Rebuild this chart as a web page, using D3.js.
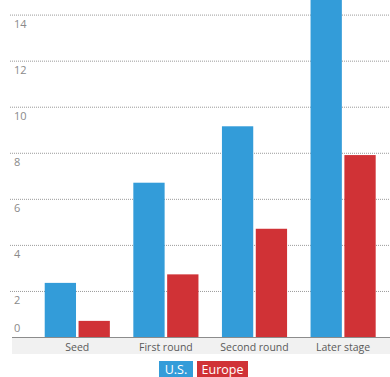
<!DOCTYPE html>
<html>
<head>
<meta charset="utf-8">
<script src="https://cdn.jsdelivr.net/npm/d3@7"></script>
<style>
  html, body { margin: 0; padding: 0; background: #fff; }
  svg { display: block; }
  text { font-family: "Open Sans", "DejaVu Sans", sans-serif; }
</style>
</head>
<body>
<svg id="chart" width="390" height="377"></svg>
<script>
// Venture funding by stage
const categories = ["Seed", "First round", "Second round", "Later stage"];
const seriesNames = ["U.S.", "Europe"];
const usValues = [2.35, 6.7, 9.15, 15.3];
const europeValues = [0.7, 2.72, 4.7, 7.9];
const yTicks = [0, 2, 4, 6, 8, 10, 12, 14];
const colors = ["#339cd9", "#d03236"];

const svg = d3.select("#chart");
const W = 390;
const left = 12;
const baseY = 337;

const y = d3.scaleLinear().domain([0, 14]).range([baseY, 14.6]);
const x0 = d3.scaleBand().domain(categories).range([33.2, 387.2]).paddingInner(0.265).paddingOuter(0.13);
const x1 = d3.scaleBand().domain(seriesNames).range([0, x0.bandwidth()]).paddingInner(0.075);
const color = d3.scaleOrdinal().domain(seriesNames).range(colors);

// category label strip
svg.append("rect")
  .attr("x", left).attr("y", baseY)
  .attr("width", W - left).attr("height", 17)
  .attr("fill", "#f1f1f1");

// dotted gridlines
svg.append("g")
  .selectAll("line")
  .data(yTicks.filter(d => d > 0))
  .join("line")
  .attr("x1", left - 2).attr("x2", W)
  .attr("y1", d => y(d) + 0.5).attr("y2", d => y(d) + 0.5)
  .attr("stroke", "#9a9a9a")
  .attr("stroke-width", 1)
  .attr("stroke-dasharray", "1,1");

// tick labels sit just below their gridline; zero sits above the baseline
svg.append("g")
  .selectAll("text")
  .data(yTicks)
  .join("text")
  .attr("x", 14)
  .attr("y", d => d === 0 ? y(d) - 5 : y(d) + 13)
  .attr("font-size", 11)
  .attr("fill", "#8a8a8a")
  .text(d => d);

// bars
const rows = categories.map((c, i) => ({ cat: c, values: [usValues[i], europeValues[i]] }));
const groups = svg.append("g")
  .selectAll("g")
  .data(rows)
  .join("g")
  .attr("transform", d => `translate(${x0(d.cat)},0)`);

groups.selectAll("rect")
  .data(d => seriesNames.map((s, j) => ({ s, v: d.values[j] })))
  .join("rect")
  .attr("x", d => x1(d.s))
  .attr("width", x1.bandwidth())
  .attr("y", d => y(d.v))
  .attr("height", d => baseY - y(d.v))
  .attr("fill", d => color(d.s));

// baseline
svg.append("line")
  .attr("x1", left).attr("x2", W)
  .attr("y1", baseY + 0.5).attr("y2", baseY + 0.5)
  .attr("stroke", "#8c8c8c").attr("stroke-width", 1);

// category labels
svg.append("g")
  .selectAll("text")
  .data(categories)
  .join("text")
  .attr("x", d => x0(d) + x0.bandwidth() / 2)
  .attr("y", baseY + 14)
  .attr("text-anchor", "middle")
  .attr("font-size", 10.5)
  .attr("fill", "#5a5a5a")
  .text(d => d);

// legend
const legend = [
  { name: "U.S.", x: 159, w: 34 },
  { name: "Europe", x: 197, w: 51 }
];
const lg = svg.append("g")
  .selectAll("g")
  .data(legend)
  .join("g")
  .attr("transform", d => `translate(${d.x},361)`);
lg.append("rect")
  .attr("width", d => d.w).attr("height", 16)
  .attr("fill", d => color(d.name));
lg.append("text")
  .attr("x", d => d.w / 2).attr("y", 13)
  .attr("text-anchor", "middle")
  .attr("font-size", 12.5)
  .attr("fill", "#fff")
  .text(d => d.name);
</script>
</body>
</html>
